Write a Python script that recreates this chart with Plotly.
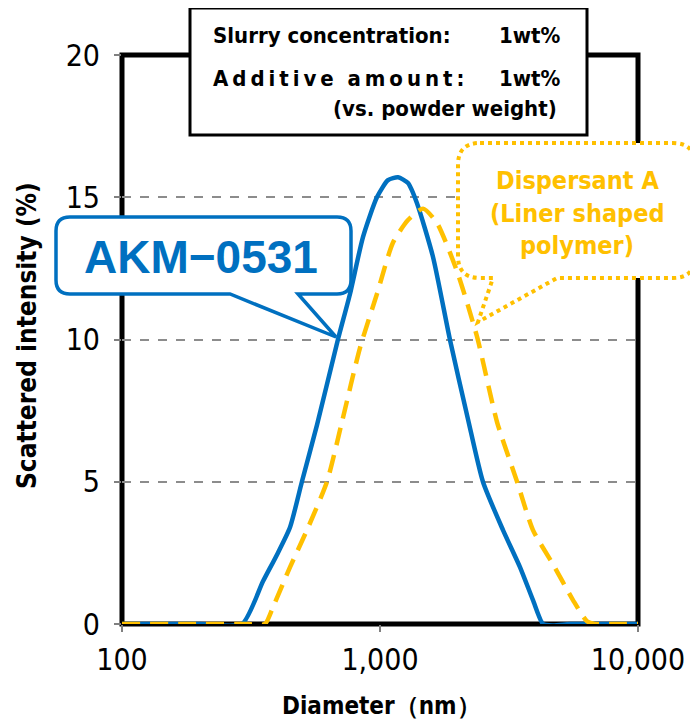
import plotly.graph_objects as go

# ---------------- data ----------------
akm_diameter = [100, 200, 292, 352, 402, 448, 498, 570, 687, 765, 859, 973, 1074, 1175,
                1284, 1390, 1605, 1866, 2193, 2506, 2998, 3488, 3917, 4285, 4680, 5445, 7000, 10000]
akm_intensity = [0, 0, 0, 1.5, 2.5, 3.4, 5.0, 7.0, 10.0, 11.6, 13.6, 15.0, 15.6, 15.7,
                 15.5, 14.8, 12.9, 10.0, 7.2, 5.0, 3.3, 2.0, 0.84, 0.0, -0.05, 0, 0, 0]

disp_diameter = [100, 200, 300, 358, 385, 448, 521, 623, 712, 836, 973, 1122, 1284, 1468,
                 1662, 1988, 2377, 2842, 3399, 3917, 4683, 5598, 6340, 6808, 8000, 10000]
disp_intensity = [0, 0, 0, 0, 0.6, 2.0, 3.3, 5.0, 7.1, 9.7, 11.6, 13.4, 14.2, 14.6,
                  14.1, 12.4, 10.1, 7.1, 5.0, 3.3, 2.1, 0.84, 0.1, 0, 0, 0]

x_tickvals = [100, 1000, 10000]
x_ticktext = ["100", "1,000", "10,000"]
y_tickvals = [0, 5, 10, 15, 20]

BLUE = "#0070C0"
YELLOW = "#FFC000"
NARROW = "Liberation Sans Narrow, Arial Narrow, DejaVu Sans Condensed, sans-serif"

# plot area in page pixels (the page body has an 8px margin)
OFF = 8
L, R, T, B = 122, 638, 55, 624
W, H = 698 - OFF, 726 - OFF


def PX(x):
    return (x - L) / (R - L)


def PY(y):
    return (B - y) / (B - T)


def pt(x, y):
    return f"{PX(x):.5f},{PY(y):.5f}"


fig = go.Figure()
fig.add_trace(go.Scatter(x=akm_diameter, y=akm_intensity, mode="lines",
                         line=dict(color=BLUE, width=4.5, shape="spline", smoothing=0.6),
                         name="AKM-0531", showlegend=False))
fig.add_trace(go.Scatter(x=disp_diameter, y=disp_intensity, mode="lines",
                         line=dict(color=YELLOW, width=4.5, dash="18px,10px", shape="spline", smoothing=0.6),
                         name="Dispersant A", showlegend=False))

shapes = []
# plot border (under the data lines)
shapes.append(dict(type="rect", xref="paper", yref="paper", x0=0, x1=1, y0=0, y1=1,
                   line=dict(color="black", width=5), layer="below"))

# info box
shapes.append(dict(type="rect", xref="paper", yref="paper",
                   x0=PX(190), x1=PX(587), y0=PY(135), y1=PY(8),
                   line=dict(color="black", width=3), fillcolor="white", layer="above"))


def callout(x0, y0, x1, y1, r, base_r, tip, base_l):
    p = [f"M {pt(x0 + r, y0)}", f"L {pt(x1 - r, y0)}", f"Q {pt(x1, y0)} {pt(x1, y0 + r)}",
         f"L {pt(x1, y1 - r)}", f"Q {pt(x1, y1)} {pt(x1 - r, y1)}",
         f"L {pt(base_r, y1)}", f"L {pt(*tip)}", f"L {pt(base_l, y1)}",
         f"L {pt(x0 + r, y1)}", f"Q {pt(x0, y1)} {pt(x0, y1 - r)}",
         f"L {pt(x0, y0 + r)}", f"Q {pt(x0, y0)} {pt(x0 + r, y0)}", "Z"]
    return " ".join(p)


shapes.append(dict(type="path", xref="paper", yref="paper",
                   path=callout(56, 217, 351, 294, 14, 298, (336, 337), 230),
                   line=dict(color=BLUE, width=3.5), fillcolor="white", layer="above"))
shapes.append(dict(type="path", xref="paper", yref="paper",
                   path=callout(458, 143, 695, 278, 22, 557, (478, 322), 493),
                   line=dict(color=YELLOW, width=4, dash="dot"), fillcolor="white", layer="above"))

annotations = []


def ann(text, x, y, size, color="black", xanchor="center", family=NARROW, bold=True, textangle=0):
    annotations.append(dict(text=f"<b>{text}</b>" if bold else text, xref="paper", yref="paper",
                            x=PX(x), y=PY(y), xanchor=xanchor, yanchor="middle", showarrow=False,
                            textangle=textangle, font=dict(size=size, color=color, family=family)))


TS = "\u2009"
ann("Slurry concentration:", 211, 35, 22, xanchor="left")
ann("1wt%", 563, 35, 22, xanchor="right")
ann(TS.join("Additive") + "\u00a0\u00a0" + TS.join("amount:"), 211, 78, 22, xanchor="left")
ann("1wt%", 563, 78, 22, xanchor="right")
ann("(vs. powder weight)", 559, 108, 22, xanchor="right")

ann("AKM−0531", 201, 257, 46, color=BLUE, family="Liberation Sans, Arial, sans-serif")

ann("Dispersant A", 577, 181, 25, color=YELLOW)
ann("(Liner shaped", 577, 213, 25, color=YELLOW)
ann("polymer)", 577, 245, 25, color=YELLOW)

ann("Scattered intensity (%)", 27, 336, 26, textangle=-90)
ann("Diameter（nm）", 381, 706, 24)

fig.update_layout(
    width=W, height=H,
    margin=dict(l=L - OFF, r=W - (R - OFF), t=T - OFF, b=H - (B - OFF), pad=0),
    paper_bgcolor="white", plot_bgcolor="white",
    showlegend=False,
    shapes=shapes, annotations=annotations,
    xaxis=dict(type="log", range=[2, 4], tickvals=x_tickvals, ticktext=x_ticktext,
               showgrid=False, zeroline=False, showline=False,
               ticks="outside", ticklen=7, tickcolor="#808080", tickwidth=1.5,
               tickfont=dict(size=30, family=NARROW, color="black"), ticklabelstandoff=2),
    yaxis=dict(range=[0, 20], tickvals=y_tickvals, showgrid=True, gridcolor="#8c8c8c",
               gridwidth=2, griddash="dash", zeroline=False, showline=False,
               ticks="outside", ticklen=7, tickcolor="#808080", tickwidth=1.5,
               tickfont=dict(size=30, family=NARROW, color="black"), ticklabelstandoff=8),
)

fig.write_html("out.html")
